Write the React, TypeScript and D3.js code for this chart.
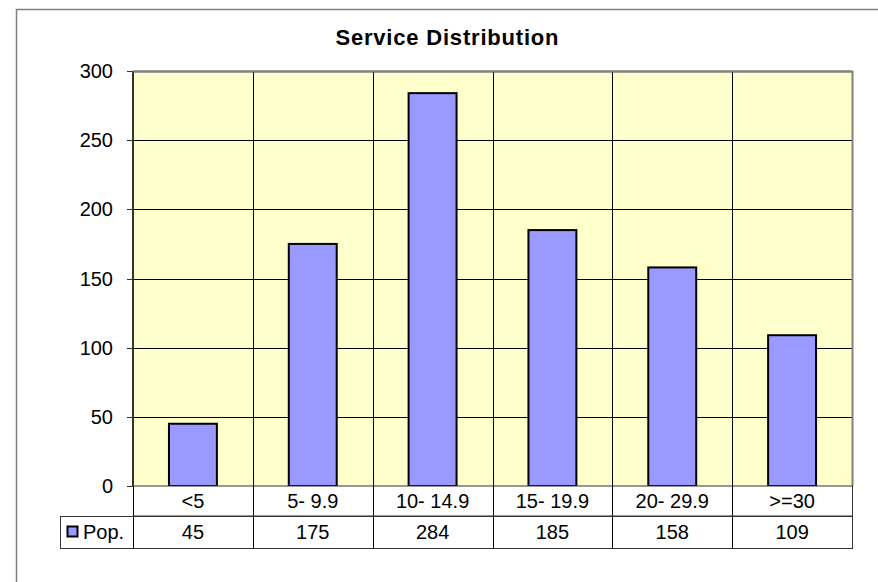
import React from "react";
import * as d3 from "d3";

const categories = ["<5", "5- 9.9", "10- 14.9", "15- 19.9", "20- 29.9", ">=30"];
const popValues = [45, 175, 284, 185, 158, 109];
const yTicks = [0, 50, 100, 150, 200, 250, 300];
const seriesName = "Pop.";
const title = "Service Distribution";

const W = 878;
const H = 582;
const plot = { left: 133, top: 71, right: 852, bottom: 486 };
const tableLeft = 60;
const rowH = 31;
const font = "'Liberation Sans', Arial, sans-serif";

const App = () => {
  const x = d3
    .scaleBand<string>()
    .domain(categories)
    .range([plot.left, plot.right])
    .paddingInner(0.6)
    .paddingOuter(0.3);

  // plain band scale for the cell / gridline boundaries
  const cell = d3.scaleBand<string>().domain(categories).range([plot.left, plot.right]);

  const y = d3.scaleLinear().domain([0, 300]).range([plot.bottom, plot.top]);

  const row1Bottom = plot.bottom + rowH - 1;
  const row2Bottom = row1Bottom + rowH + 1;

  return (
    <svg
      width={W}
      height={H}
      style={{ position: "absolute", left: 0, top: 0, background: "#fff" }}
      fontFamily={font}
    >
      {/* chart area border */}
      <rect x={16.5} y={9.5} width={900} height={600} fill="#fff" stroke="#808080" strokeWidth={1.5} />

      <text x={447.4} y={45} textAnchor="middle" fontSize={22} fontWeight="bold" letterSpacing={0.8} fill="#000">
        {title}
      </text>

      {/* plot area */}
      <rect
        x={plot.left}
        y={plot.top}
        width={plot.right - plot.left}
        height={plot.bottom - plot.top}
        fill="#FFFFCC"
      />
      {/* horizontal gridlines */}
      {yTicks.slice(1).map((t) => (
        <line
          key={"h" + t}
          x1={plot.left}
          x2={plot.right}
          y1={Math.round(y(t)) + 0.5}
          y2={Math.round(y(t)) + 0.5}
          stroke={t === 300 ? "#808080" : "#000"}
          strokeWidth={t === 300 ? 2 : 1}
        />
      ))}
      {/* vertical category gridlines */}
      {categories.slice(1).map((c) => (
        <line
          key={"v" + c}
          x1={Math.round(cell(c)!) + 0.5}
          x2={Math.round(cell(c)!) + 0.5}
          y1={plot.top}
          y2={plot.bottom}
          stroke="#000"
          strokeWidth={1}
        />
      ))}
      {/* right border with shadow */}
      <line x1={plot.right + 0.5} x2={plot.right + 0.5} y1={plot.top} y2={plot.bottom} stroke="#808080" strokeWidth={2} />

      {/* bars */}
      {categories.map((c, i) => (
        <rect
          key={"b" + c}
          x={x(c)!}
          y={y(popValues[i])}
          width={x.bandwidth()}
          height={plot.bottom - y(popValues[i])}
          fill="#9999FF"
          stroke="#000"
          strokeWidth={2}
        />
      ))}

      {/* y axis */}
      <line x1={plot.left} x2={plot.left} y1={plot.top} y2={plot.bottom} stroke="#333" strokeWidth={2} />
      {yTicks.map((t) => (
        <g key={"t" + t}>
          <line
            x1={plot.left - 6}
            x2={plot.left}
            y1={Math.round(y(t)) + 0.5}
            y2={Math.round(y(t)) + 0.5}
            stroke="#333"
          />
          <text x={113} y={y(t) + 7} textAnchor="end" fontSize={20} fill="#000">
            {t}
          </text>
        </g>
      ))}

      {/* data table */}
      <rect
        x={plot.left + 0.5}
        y={plot.bottom}
        width={plot.right - plot.left}
        height={row1Bottom - plot.bottom}
        fill="#fff"
        stroke="#333"
      />
      <rect
        x={tableLeft + 0.5}
        y={row1Bottom + 0.5}
        width={plot.right - tableLeft}
        height={row2Bottom - row1Bottom}
        fill="#fff"
        stroke="#333"
      />
      <line x1={plot.left + 0.5} x2={plot.left + 0.5} y1={plot.bottom} y2={row2Bottom} stroke="#000" />
      {categories.map((c, i) => (
        <g key={"c" + c}>
          {i > 0 && (
            <line
              x1={Math.round(cell(c)!) + 0.5}
              x2={Math.round(cell(c)!) + 0.5}
              y1={plot.bottom}
              y2={row2Bottom}
              stroke="#000"
            />
          )}
          <text
            x={cell(c)! + cell.bandwidth() / 2}
            y={plot.bottom + 22}
            textAnchor="middle"
            fontSize={20}
            fill="#000"
          >
            {c}
          </text>
          <text
            x={cell(c)! + cell.bandwidth() / 2}
            y={row1Bottom + 23}
            textAnchor="middle"
            fontSize={20}
            fill="#000"
          >
            {popValues[i]}
          </text>
        </g>
      ))}
      {/* legend key */}
      <rect x={67.5} y={526.5} width={10} height={10} fill="#9999FF" stroke="#000" strokeWidth={2} />
      <text x={83} y={row1Bottom + 23} fontSize={20} fill="#000">
        {seriesName}
      </text>

      {/* top border of plot */}
      <line x1={plot.left} x2={plot.right + 1} y1={plot.top + 0.5} y2={plot.top + 0.5} stroke="#808080" strokeWidth={2} />
    </svg>
  );
};

export default App;
